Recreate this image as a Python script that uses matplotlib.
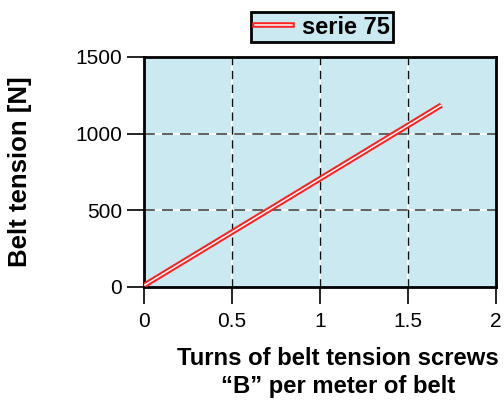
import matplotlib
matplotlib.use("Agg")
import matplotlib.pyplot as plt
from matplotlib.lines import Line2D

# turns per meter vs belt tension
giri = [0.0, 1.69]
tensione = [10, 1185]
x_ticks = [0, 0.5, 1, 1.5, 2]
x_labels = ['0', '0.5', '1', '1.5', '2']
y_ticks = [0, 500, 1000, 1500]

plt.rcParams['font.family'] = ['Liberation Sans', 'DejaVu Sans']

fig = plt.figure(figsize=(5.04, 4.03), dpi=100)
ax = fig.add_axes([0.286, 0.288, 0.698, 0.571])
ax.set_facecolor('#cbe9f1')

for v in x_ticks[1:-1]:
    ax.axvline(v, color='white', lw=1.2, zorder=1)
    ax.axvline(v, color='#111111', lw=1.0, dashes=(6, 4), zorder=2)
for v in y_ticks[1:-1]:
    ax.axhline(v, color='white', lw=1.2, zorder=1)
    ax.axhline(v, color='#555555', lw=1.3, dashes=(6, 4), zorder=2)

ax.plot(giri, tensione, color='#ff2020', lw=4, solid_capstyle='butt', zorder=3)
ax.plot(giri, tensione, color='white', lw=1.1, solid_capstyle='butt', zorder=4)

ax.set_xlim(0, 2)
ax.set_ylim(0, 1500)
ax.set_xticks(x_ticks)
ax.set_xticklabels(x_labels)
ax.set_yticks(y_ticks)
ax.tick_params(direction='out', length=12, width=1.2, labelsize=15, pad=4)
ax.tick_params(axis='x', pad=6)
for s in ax.spines.values():
    s.set_linewidth(2)

fig.text(0.04, 0.575, 'Belt tension [N]', rotation=90, fontsize=18.5, fontweight='bold',
         ha='center', va='center')
fig.text(0.671, 0.140, 'Turns of belt tension screws\n\u201cB\u201d per meter of belt',
         fontsize=17.2, fontweight='bold', ha='center', va='top', linespacing=1.3)

# legend box
h_red = Line2D([], [], color='#ff2020', lw=4)
h_wht = Line2D([], [], color='white', lw=1.1)
leg = fig.legend([(h_red, h_wht)], ['serie 75'], loc='center',
                 bbox_to_anchor=(0.639, 0.933), frameon=True,
                 fancybox=False, edgecolor='black', facecolor='#cbe9f1',
                 prop={'weight': 'bold', 'size': 17}, handlelength=1.6,
                 borderpad=0.15, handletextpad=0.4)
leg.get_frame().set_linewidth(2)
leg.get_frame().set_alpha(1)

fig.savefig('out.png', dpi=100)
